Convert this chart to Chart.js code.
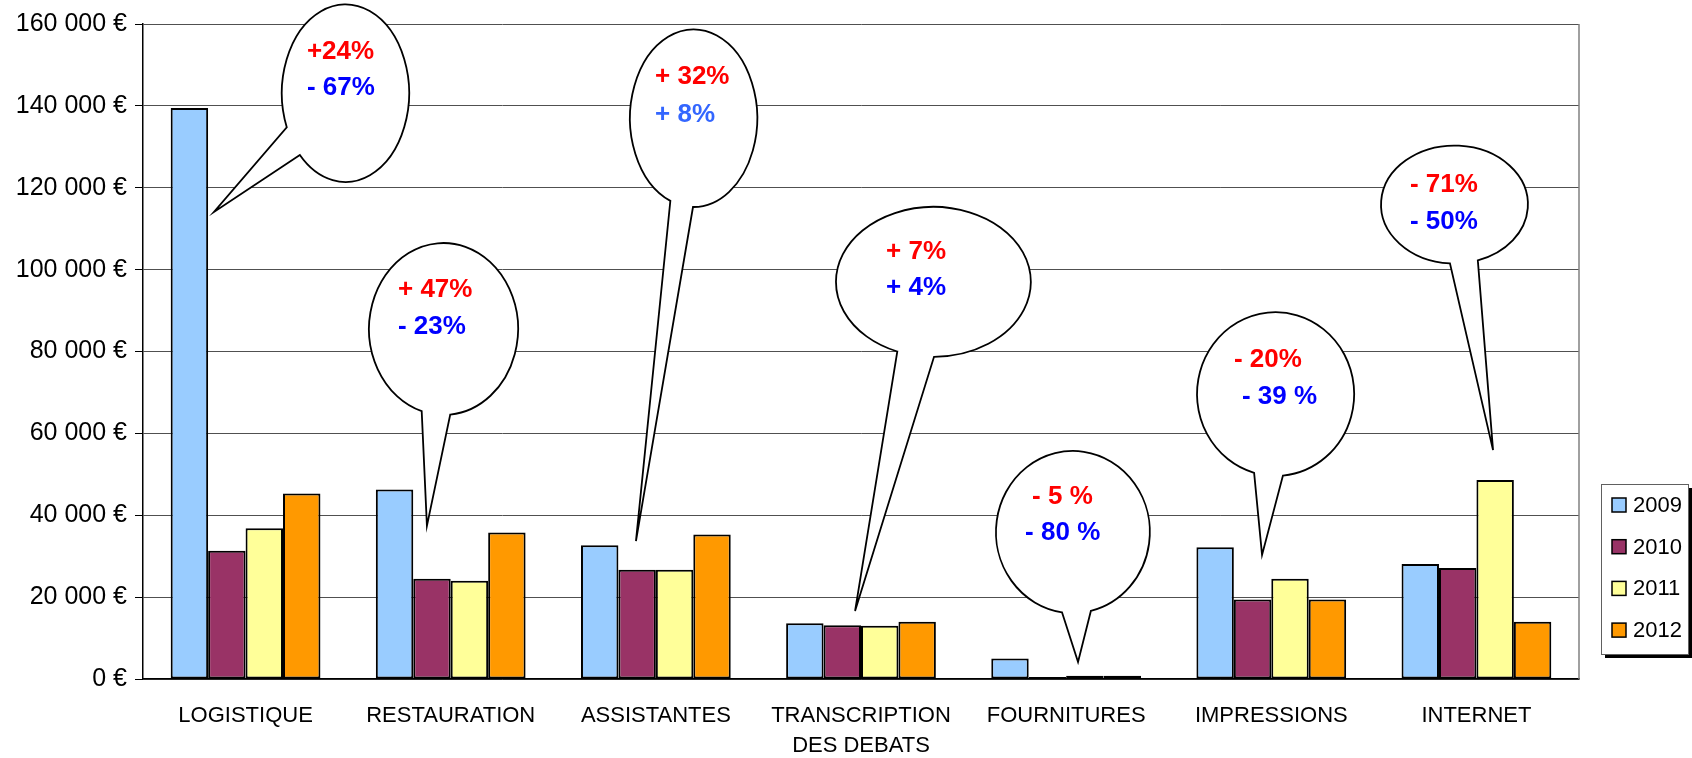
<!DOCTYPE html>
<html>
<head>
<meta charset="utf-8">
<script src="https://cdn.jsdelivr.net/npm/chart.js@4"></script>
<style>
html,body{margin:0;padding:0;background:#fff;}
#wrap{width:1692px;height:758px;}
</style>
</head>
<body>
<div id="wrap"><canvas id="c" width="1692" height="758"></canvas></div>
<script>
// ---- Data ----
const categories = ['LOGISTIQUE', 'RESTAURATION', 'ASSISTANTES', ['TRANSCRIPTION', 'DES DEBATS'], 'FOURNITURES', 'IMPRESSIONS', 'INTERNET'];
const years = ['2009', '2010', '2011', '2012'];
const values2009 = [139500, 46300, 32700, 13600, 5000, 32200, 28100];
const values2010 = [31300, 24500, 26700, 13100, 500, 19400, 27100];
const values2011 = [36800, 24000, 26700, 13000, 800, 24500, 48600];
const values2012 = [45300, 35800, 35300, 14000, 800, 19400, 14000];
const yTicks = [0, 20000, 40000, 60000, 80000, 100000, 120000, 140000, 160000];

// ---- Styles ----
const colors = ['#99CCFF', '#993366', '#FFFF99', '#FF9900'];
const RED = '#FF0000', BLUE = '#0000FF', LIGHTBLUE = '#3366FF';

// ---- Callout annotations (positions in data units: x = category index, y = euros) ----
const callouts = [
  {cx: 0.487, cy: 143100, rx: 0.310, ry: 21700, b1: [0.202, 134800], b2: [0.265, 128000], tip: [-0.154, 114100],
   lines: [{t: '+24%', c: RED, x: 0.299, y: 153200}, {t: '- 67%', c: BLUE, x: 0.299, y: 144400}]},
  {cx: 0.965, cy: 85500, rx: 0.363, ry: 21000, b1: [0.860, 65700], b2: [0.997, 65000], tip: [0.884, 37400],
   lines: [{t: '+ 47%', c: RED, x: 0.743, y: 95000}, {t: '- 23%', c: BLUE, x: 0.743, y: 86000}]},
  {cx: 2.184, cy: 137000, rx: 0.310, ry: 21700, b1: [2.069, 116500], b2: [2.181, 115000], tip: [1.903, 33700],
   lines: [{t: '+ 32%', c: RED, x: 1.996, y: 147000}, {t: '+ 8%', c: LIGHTBLUE, x: 1.996, y: 137800}]},
  {cx: 3.353, cy: 97000, rx: 0.475, ry: 18300, b1: [3.176, 79900], b2: [3.356, 78400], tip: [2.971, 16600],
   lines: [{t: '+ 7%', c: RED, x: 3.122, y: 104300}, {t: '+ 4%', c: BLUE, x: 3.122, y: 95500}]},
  {cx: 4.033, cy: 35900, rx: 0.375, ry: 19800, b1: [3.980, 16400], b2: [4.121, 16600], tip: [4.058, 4150],
   lines: [{t: '- 5 %', c: RED, x: 3.834, y: 44500}, {t: '- 80 %', c: BLUE, x: 3.800, y: 35700}]},
  {cx: 5.021, cy: 69600, rx: 0.383, ry: 20000, b1: [4.916, 50300], b2: [5.057, 49600], tip: [4.955, 30300],
   lines: [{t: '- 20%', c: RED, x: 4.818, y: 77900}, {t: '- 39 %', c: BLUE, x: 4.857, y: 68900}]},
  {cx: 5.893, cy: 115900, rx: 0.358, ry: 14400, b1: [5.871, 101600], b2: [6.008, 102100], tip: [6.081, 55900],
   lines: [{t: '- 71%', c: RED, x: 5.676, y: 120700}, {t: '- 50%', c: BLUE, x: 5.676, y: 111600}]}
];

const seriesValues = [values2009, values2010, values2011, values2012];
const datasets = years.map((yr, i) => ({
  label: yr,
  data: seriesValues[i],
  backgroundColor: colors[i],
  borderColor: '#000',
  borderWidth: 2,
  borderSkipped: false,
  categoryPercentage: 0.73,
  barPercentage: 1.0
}));

function fmtEuro(v) {
  return String(v).replace(/\B(?=(\d{3})+(?!\d))/g, ' ') + ' €';
}

const extras = {
  id: 'extras',
  beforeDatasetsDraw(chart) {
    const {ctx, chartArea: a} = chart;
    ctx.save();
    ctx.strokeStyle = '#808080';
    ctx.lineWidth = 1.5;
    ctx.beginPath();
    ctx.moveTo(a.right, a.top);
    ctx.lineTo(a.right, a.bottom);
    ctx.stroke();
    ctx.restore();
  },
  afterDatasetsDraw(chart) {
    const {ctx} = chart;
    const x = chart.scales.x, y = chart.scales.y;
    const ux = x.getPixelForValue(1) - x.getPixelForValue(0);
    const uy = y.getPixelForValue(0) - y.getPixelForValue(1);
    const TWO = Math.PI * 2;
    ctx.save();
    for (const c of callouts) {
      const cx = x.getPixelForValue(c.cx), cy = y.getPixelForValue(c.cy);
      const rx = c.rx * ux, ry = c.ry * uy;
      const a1 = Math.atan2((y.getPixelForValue(c.b1[1]) - cy) / ry, (x.getPixelForValue(c.b1[0]) - cx) / rx);
      const a2 = Math.atan2((y.getPixelForValue(c.b2[1]) - cy) / ry, (x.getPixelForValue(c.b2[0]) - cx) / rx);
      const tx = x.getPixelForValue(c.tip[0]), ty = y.getPixelForValue(c.tip[1]);
      const d = (((a2 - a1) % TWO) + TWO) % TWO;
      ctx.beginPath();
      if (d < Math.PI) {
        ctx.ellipse(cx, cy, rx, ry, 0, a2, a1, false);
      } else {
        ctx.ellipse(cx, cy, rx, ry, 0, a1, a2, false);
      }
      ctx.lineTo(tx, ty);
      ctx.closePath();
      ctx.fillStyle = '#fff';
      ctx.fill();
      ctx.strokeStyle = '#000';
      ctx.lineWidth = 1.8;
      ctx.lineJoin = 'miter';
      ctx.stroke();
      ctx.font = 'bold 26px "Liberation Sans", Arial, sans-serif';
      ctx.textAlign = 'left';
      ctx.textBaseline = 'middle';
      for (const l of c.lines) {
        ctx.fillStyle = l.c;
        ctx.fillText(l.t, x.getPixelForValue(l.x), y.getPixelForValue(l.y));
      }
    }
    ctx.restore();
  },
  afterDraw(chart) {
    const {ctx, chartArea: a} = chart;
    // legend box to the right of the plot
    const bx = a.right + 22, by = 484, bw = 87, bh = 170;
    ctx.save();
    ctx.fillStyle = '#000';
    ctx.fillRect(bx + 4, by + 4, bw, bh);
    ctx.fillStyle = '#fff';
    ctx.fillRect(bx, by, bw, bh);
    ctx.strokeStyle = '#606060';
    ctx.lineWidth = 1;
    ctx.strokeRect(bx + 0.5, by + 0.5, bw, bh);
    ctx.font = '22px "Liberation Sans", Arial, sans-serif';
    ctx.textBaseline = 'middle';
    ctx.textAlign = 'left';
    chart.data.datasets.forEach((ds, i) => {
      const cy = by + 21 + i * 41.7;
      ctx.fillStyle = ds.backgroundColor;
      ctx.fillRect(bx + 11, cy - 7, 14, 14);
      ctx.strokeStyle = '#000';
      ctx.lineWidth = 1.5;
      ctx.strokeRect(bx + 11, cy - 7, 14, 14);
      ctx.fillStyle = '#000';
      ctx.fillText(ds.label, bx + 32, cy + 1);
    });
    ctx.restore();
  }
};

new Chart(document.getElementById('c'), {
  type: 'bar',
  data: {labels: categories, datasets},
  options: {
    responsive: false,
    animation: false,
    devicePixelRatio: 1,
    layout: {padding: {left: 0, top: 24, right: 113, bottom: 0}},
    plugins: {legend: {display: false}, tooltip: {enabled: false}},
    scales: {
      x: {
        grid: {display: false, drawTicks: false},
        border: {display: true, color: '#000', width: 1.5},
        ticks: {
          color: '#000',
          padding: 22,
          maxRotation: 0,
          autoSkip: false,
          font: {family: '"Liberation Sans", Arial, sans-serif', size: 22, lineHeight: 1.36}
        },
        afterFit(s) { s.height = 79; }
      },
      y: {
        min: 0, max: 160000,
        afterBuildTicks(s) { s.ticks = yTicks.map(v => ({value: v})); },
        grid: {color: '#505050', lineWidth: 1, tickLength: 8, tickColor: '#000'},
        border: {display: true, color: '#000', width: 1.5},
        ticks: {
          color: '#000',
          padding: 8,
          callback: v => fmtEuro(v),
          font: {family: '"Liberation Sans", Arial, sans-serif', size: 25}
        },
        afterFit(s) { s.width = 143; }
      }
    }
  },
  plugins: [extras]
});
</script>
</body>
</html>
